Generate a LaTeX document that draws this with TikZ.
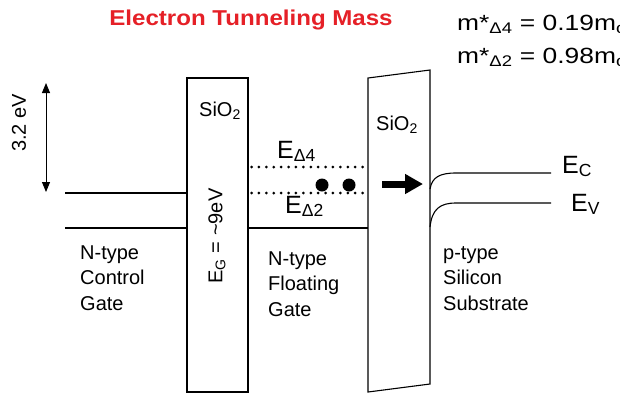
\documentclass[tikz,border=0pt]{standalone}
\usepackage{fontspec}
\setmainfont{Liberation Sans}
\newfontfamily\titlefont[FakeStretch=1.12]{Liberation Sans}
\newfontfamily\massfont[FakeStretch=1.2]{Liberation Sans}
\usetikzlibrary{arrows.meta, positioning}

\definecolor{titlered}{RGB}{229,32,39}

\tikzset{
  band/.style={line width=1.1pt},
  lbl/.style={font=\fontsize{20}{25.5}\selectfont, align=left, inner sep=0pt},
  elbl/.style={font=\fontsize{25}{28}\selectfont, inner sep=0pt},
  mass/.style={font=\massfont\fontsize{22}{26}\selectfont, inner sep=0pt, anchor=base west},
  level/.style={line width=3pt, line cap=round, dash pattern=on 0pt off 7.4pt},
}

\begin{document}
\begin{tikzpicture}[x=1pt, y=-1pt]
\useasboundingbox (0,0) rectangle (620,394);

% title and masses
\node[font=\titlefont\fontsize{21.5}{26}\selectfont\bfseries, text=titlered, inner sep=0pt] (title) at (251,20) {Electron Tunneling Mass};
\node[mass] (mA) at (457,30) {m*\textsubscript{Δ4} = 0.19m\textsubscript{o}};
\node[mass] (mB) at (457,63) {m*\textsubscript{Δ2} = 0.98m\textsubscript{o}};

% oxide barriers
\node[draw, band, minimum width=61pt, minimum height=314pt, inner sep=0pt] (oxA) at (217.5,235) {};
\coordinate (oxBtl) at (368,78);
\coordinate (oxBtr) at (430,70);
\coordinate (oxBbr) at (430,384);
\coordinate (oxBbl) at (368,392);
\draw[band] (oxBtl) -- (oxBtr) -- (oxBbr) -- (oxBbl) -- cycle;
\node[lbl] (sioA) at (220,111) {SiO\textsubscript{2}};
\node[lbl] (sioB) at (397,125) {SiO\textsubscript{2}};
\node[lbl, rotate=90] (eg) at (217,236) {E\textsubscript{G} = \textasciitilde9eV};

% 3.2 eV
\coordinate (gapT) at (46,83);
\coordinate (gapB) at (46,192);
\draw[line width=1pt, {Triangle[length=10pt,width=8pt]}-{Triangle[length=10pt,width=8pt]}] (gapT) -- (gapB);
\node[lbl, rotate=90] (gap) at (19,123) {3.2 eV};

% control gate
\coordinate (cgC) at (65,193);
\coordinate (cgV) at (65,228);
\draw[band] (cgC) -- (cgC -| oxA.west);
\draw[band] (cgV) -- (cgV -| oxA.west);
\node[lbl, anchor=base west] (cg) at (80,310) {N-type\\Control\\Gate};

% floating gate
\coordinate (lvA) at (0,167);
\coordinate (lvB) at (0,193);
\draw[band] (oxA.east |- cgV) -- (oxBbl |- cgV);
\draw[level] ([xshift=3pt]oxA.east |- lvA) -- ([xshift=-2pt]oxBtl |- lvA);
\draw[level] ([xshift=3pt]oxA.east |- lvB) -- ([xshift=-2pt]oxBtl |- lvB);
\node[elbl, anchor=base west] (eA) at (277,158) {E\textsubscript{Δ4}};
\node[elbl, anchor=base west] (eB) at (285,213) {E\textsubscript{Δ2}};
\fill (322,185) circle (6.5pt);
\fill (349,185) circle (6.5pt);
\node[lbl, anchor=base west] (fg) at (268,316) {N-type\\Floating\\Gate};

% tunneling arrow
\coordinate (tunS) at (382,184);
\coordinate (tunE) at (423,184);
\draw[line width=7pt, -{Triangle[length=18pt,width=19pt]}] (tunS) -- (tunE);

% substrate bands
\coordinate (ecS) at (430,189);
\coordinate (evS) at (430,227);
\draw[band] (ecS) .. controls (432,177) and (440,173) .. (456,173) -- (551,173) coordinate (ecE);
\draw[band] (evS) .. controls (432,209) and (440,203) .. (456,203) -- (551,203) coordinate (evE);
\node[elbl, anchor=base west] (ec) at (562,173) {E\textsubscript{C}};
\node[elbl, anchor=base west] (ev) at (571,211) {E\textsubscript{V}};
\node[lbl, anchor=base west] (sub) at (443,310) {p-type\\Silicon\\Substrate};
\end{tikzpicture}
\end{document}
